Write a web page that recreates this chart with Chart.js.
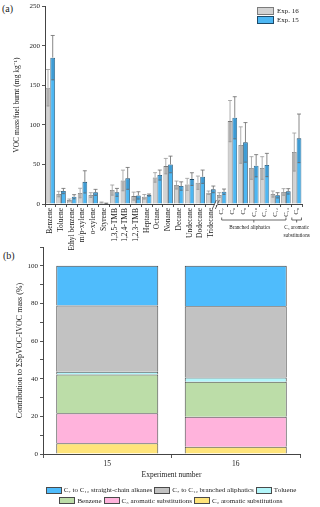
<!DOCTYPE html>
<html>
<head>
<meta charset="utf-8">
<script src="https://cdn.jsdelivr.net/npm/chart.js@4.4.1/dist/chart.umd.min.js"></script>
<style>
    html, body { margin: 0; padding: 0; background: #fff; }
    body {
        width: 320px; height: 507px; position: relative; overflow: hidden;
        font-family: 'Liberation Serif', 'Times New Roman', serif; color: #222;
    }
    #wrapA { position: absolute; left: 0; top: 0; width: 320px; height: 250px; }
    #wrapB { position: absolute; left: 0; top: 240px; width: 320px; height: 245px; }
    .panel { position: absolute; font-size: 10px; }
    #legendA { position: absolute; left: 257px; top: 7px; font-size: 7px; }
    #legendA .item { display: flex; align-items: center; height: 8.5px; }
    #legendA .sw { width: 15px; height: 6px; border: 1px solid; margin-right: 3px; }
    #legendB {
        position: absolute; left: 40px; top: 485px; width: 262px;
        display: flex; flex-wrap: wrap; justify-content: center; font-size: 7px; line-height: 10.5px;
    }
    #legendB .item { display: flex; align-items: center; margin: 0 1px; }
    #legendB .sw { width: 14px; height: 5px; border: 1px solid; margin-right: 2px; }
</style>
</head>
<body>
<div class="panel" style="left:2px;top:3px;">(a)</div>
<div class="panel" style="left:3px;top:250px;">(b)</div>
<div id="wrapA"><canvas id="chartA"></canvas></div>
<div id="wrapB"><canvas id="chartB"></canvas></div>
<div id="legendA"></div>
<div id="legendB"></div>
<script>
// ---- panel (a) data ----
const compounds = ['Benzene', 'Toluene', 'Ethyl benzene', 'm/p-xylene', 'o-xylene', 'Styrene',
    '1,3,5-TMB', '1,2,4-TMB', '1,2,3-TMB', 'Heptane', 'Octane', 'Nonane', 'Decane', 'Undecane',
    'Dodecane', 'Tridecane', 'C₇', 'C₈', 'C₉', 'C₁₀', 'C₁₁', 'C₁₂', 'C₁₃', 'C₉'];
const exp16Mass = [147, 12.6, 5, 13.9, 11.3, 2, 17.6, 29.8, 10, 9.2, 33.6, 47.9, 24, 24.8, 26.9, 14.3,
    11.3, 104.8, 74.5, 45.5, 45.5, 12.6, 15.2, 65.7];
const exp16Err = [23, 3.4, 1.3, 6, 3, 0.5, 6.4, 13, 5, 2.8, 6, 9.7, 5, 7.6, 8.4, 2.1,
    3, 26, 23, 14.3, 14.3, 3.8, 4.2, 24];
const exp15Mass = [185, 16.4, 9.2, 28, 14.7, 0.8, 14.7, 32.4, 10.9, 11.3, 36.6, 50, 22.7, 31.5, 34.5, 18.5,
    15.5, 109, 77.9, 48.4, 49.3, 11, 16, 83];
const exp15Err = [28, 3.3, 2.6, 14, 3.8, 0.3, 5, 13.8, 4.6, 1.3, 6.3, 10.5, 5.3, 8, 8.4, 4.2,
    3.4, 26.6, 25, 14, 14.7, 3.3, 3.4, 30.7];
const massTicks = [0, 50, 100, 150, 200, 250];
// bracket groups under the x axis (first / last category index)
const groupNames = [['Branched aliphatics'], ['C₃ aromatic', 'substitutions']];
const groupFrom = [16, 23];
const groupTo = [22, 23];
const breakAfter = 15; // axis break between Tridecane and C7

// ---- panel (b) data ----
const experiments = ['15', '16'];
const c2AromShare = [5.7, 3.9];
const c3AromShare = [15.9, 15.9];
const benzeneShare = [20.7, 18.6];
const tolueneShare = [1.4, 2.3];
const branchedShare = [35.2, 37.8];
const straightShare = [21.1, 21.5];

Chart.defaults.font.family = "'Liberation Serif', 'Times New Roman', serif";
Chart.defaults.color = '#222';
Chart.defaults.animation = false;

// error bars: whisker above the bar, darker band inside the bar below the top
const errorBars = {
    id: 'errorBars',
    afterDatasetsDraw(chart) {
        const ctx = chart.ctx;
        const yScale = chart.scales.y;
        ctx.save();
        chart.data.datasets.forEach((ds, di) => {
            if (!ds.errors) return;
            const meta = chart.getDatasetMeta(di);
            meta.data.forEach((bar, i) => {
                const v = ds.data[i], e = ds.errors[i];
                const top = yScale.getPixelForValue(v + e);
                const low = yScale.getPixelForValue(Math.max(v - e, 0));
                const left = bar.x - bar.width / 2;
                // band
                ctx.fillStyle = ds.bandColor;
                ctx.fillRect(left + 1, bar.y + 0.5, bar.width - 2, low - bar.y);
                ctx.strokeStyle = ds.whiskerColor;
                ctx.lineWidth = 0.8;
                ctx.beginPath();
                ctx.moveTo(left + 1, low);
                ctx.lineTo(left + bar.width - 1, low);
                // whisker
                ctx.moveTo(bar.x, bar.y);
                ctx.lineTo(bar.x, top);
                ctx.moveTo(bar.x - 2, top);
                ctx.lineTo(bar.x + 2, top);
                ctx.stroke();
            });
        });
        ctx.restore();
    }
};

// brackets + axis break under panel (a)
const annotations = {
    id: 'annotations',
    afterDraw(chart) {
        const ctx = chart.ctx;
        const xs = chart.scales.x;
        const bottom = chart.chartArea.bottom;
        const catW = xs.getPixelForValue(1) - xs.getPixelForValue(0);
        ctx.save();
        ctx.strokeStyle = '#444';
        ctx.lineWidth = 0.8;
        ctx.fillStyle = '#222';
        ctx.font = "5.2px 'Liberation Serif', serif";
        ctx.textAlign = 'center';
        ctx.textBaseline = 'middle';
        groupNames.forEach((name, g) => {
            let x1 = xs.getPixelForValue(groupFrom[g]);
            let x2 = xs.getPixelForValue(groupTo[g]);
            if (groupFrom[g] === groupTo[g]) { x1 -= catW * 0.45; x2 += catW * 0.45; }
            const yb = bottom + 16;
            const xm = (x1 + x2) / 2;
            ctx.beginPath();
            ctx.moveTo(x1, yb - 2.5);
            ctx.lineTo(x1, yb);
            ctx.lineTo(x2, yb);
            ctx.lineTo(x2, yb - 2.5);
            ctx.moveTo(xm, yb);
            ctx.lineTo(xm, yb + 2.5);
            ctx.stroke();
            const w = Math.max(...name.map(t => ctx.measureText(t).width));
            const tx = Math.min(xm - (name.length === 1 ? 4 : 0), chart.width - w / 2 - 2);
            name.forEach((t, k) => ctx.fillText(t, tx, yb + 8 + k * 7.5));
        });
        // break mark
        const xb = (xs.getPixelForValue(breakAfter) + xs.getPixelForValue(breakAfter + 1)) / 2;
        ctx.fillStyle = '#fff';
        ctx.fillRect(xb - 1.5, bottom - 1, 3, 2);
        ctx.beginPath();
        ctx.moveTo(xb - 4, bottom + 5);
        ctx.lineTo(xb, bottom - 4);
        ctx.moveTo(xb - 1, bottom + 5);
        ctx.lineTo(xb + 3, bottom - 4);
        ctx.stroke();
        ctx.restore();
    }
};

function buildLegend(chart, el, reverse) {
    let items = chart.data.datasets.map(ds => ds);
    if (reverse) items = items.reverse();
    el.innerHTML = items.map(ds =>
        `<div class="item"><span class="sw" style="background:${ds.backgroundColor};border-color:${ds.borderColor}"></span><span>${ds.label}</span></div>`
    ).join('');
}

const chartA = new Chart(document.getElementById('chartA'), {
    type: 'bar',
    data: {
        labels: compounds,
        datasets: [
            {
                label: 'Exp. 16', data: exp16Mass, errors: exp16Err,
                backgroundColor: '#d2d2d2', borderColor: '#7c7c7c', borderWidth: 0.8,
                bandColor: 'rgba(90,90,90,0.28)', whiskerColor: '#9a9a9a'
            },
            {
                label: 'Exp. 15', data: exp15Mass, errors: exp15Err,
                backgroundColor: '#4db7f3', borderColor: '#1d4a68', borderWidth: 0.8,
                bandColor: 'rgba(20,70,120,0.25)', whiskerColor: '#6a6a6a'
            }
        ]
    },
    options: {
        responsive: true,
        maintainAspectRatio: false,
        categoryPercentage: 0.88,
        barPercentage: 1.0,
        layout: { padding: { left: 0, right: 18, top: 6, bottom: 0 } },
        plugins: { legend: { display: false }, tooltip: { enabled: false } },
        scales: {
            x: {
                grid: { drawOnChartArea: false, tickLength: 3, color: '#555' },
                border: { color: '#444' },
                ticks: {
                    font: ctx => ({ size: ctx.index >= 16 ? 6.5 : 7.5 }),
                    minRotation: 90, maxRotation: 90, autoSkip: false, padding: 1
                },
                afterFit: s => { s.height = 46; }
            },
            y: {
                min: 0, max: 250,
                afterBuildTicks: s => { s.ticks = massTicks.map(v => ({ value: v })); },
                grid: { drawOnChartArea: false, tickLength: 3, color: '#555' },
                border: { color: '#444' },
                ticks: { font: { size: 7 }, padding: 2 },
                title: { display: true, text: 'VOC mass/fuel burnt (mg kg⁻¹)', font: { size: 7.5 }, padding: { top: 13, bottom: 0 } },
                afterFit: s => { s.width = 45; }
            }
        }
    },
    plugins: [errorBars, annotations]
});
buildLegend(chartA, document.getElementById('legendA'), false);

const chartB = new Chart(document.getElementById('chartB'), {
    type: 'bar',
    data: {
        labels: experiments,
        datasets: [
            { label: 'C₂ aromatic substitutions', data: c2AromShare, backgroundColor: '#ffe47a' },
            { label: 'C₃ aromatic substitutions', data: c3AromShare, backgroundColor: '#ffb3dc' },
            { label: 'Benzene', data: benzeneShare, backgroundColor: '#bcdda8' },
            { label: 'Toluene', data: tolueneShare, backgroundColor: '#b2f6fa' },
            { label: 'C₇ to C₁₂ branched aliphatics', data: branchedShare, backgroundColor: '#c2c2c2' },
            { label: 'C₇ to C₁₂ straight-chain alkanes', data: straightShare, backgroundColor: '#4fbcfc' }
        ].map(ds => Object.assign(ds, { borderColor: '#4a4a4a', borderWidth: 1 }))
    },
    options: {
        responsive: true,
        maintainAspectRatio: false,
        categoryPercentage: 1.0,
        barPercentage: 0.794,
        layout: { padding: { left: 0, right: 20, top: 7, bottom: 0 } },
        plugins: { legend: { display: false }, tooltip: { enabled: false } },
        scales: {
            x: {
                stacked: true,
                grid: { drawOnChartArea: false, tickLength: 4, color: '#555' },
                border: { color: '#444' },
                ticks: { font: { size: 7.5 }, padding: 2 },
                title: { display: true, text: 'Experiment number', font: { size: 7.5 }, padding: { top: 0, bottom: 5 } },
                afterFit: s => { s.height = 31; }
            },
            y: {
                stacked: true,
                min: 0, max: 110,
                grid: { drawOnChartArea: false, tickLength: 3, color: '#555' },
                border: { color: '#444' },
                ticks: { stepSize: 10, font: { size: 7 }, padding: 2, callback: v => (v % 20 === 0 && v <= 100) ? v : '' },
                title: { display: true, text: 'Contribution to ΣSpVOC-IVOC mass (%)', font: { size: 8 }, padding: { top: 15, bottom: 0 } },
                afterFit: s => { s.width = 43; }
            }
        }
    }
});
buildLegend(chartB, document.getElementById('legendB'), true);
</script>
</body>
</html>
